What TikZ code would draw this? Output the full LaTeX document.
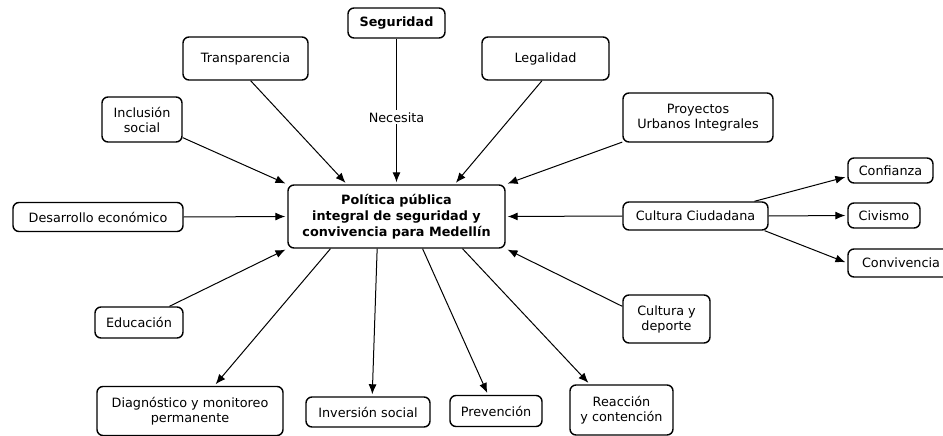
\documentclass[tikz,border=0pt]{standalone}
\usepackage{fontspec}
\setmainfont{DejaVu Sans}
\usetikzlibrary{arrows.meta}
\begin{document}
\begin{tikzpicture}[x=1pt,y=-1pt,
  box/.style={draw, line width=1.4pt, rounded corners=6pt, align=center, inner sep=2pt,
    font=\fontsize{12.8}{15}\selectfont},
  boldbox/.style={box, font=\bfseries\fontsize{12.8}{16}\selectfont},
  link/.style={line width=1pt, -{Latex[length=10pt,width=8pt]}, shorten >=2pt},
  lbl/.style={fill=white, inner sep=2pt, font=\fontsize{12.8}{15}\selectfont}
  ]
\useasboundingbox[fill=white] (0,0) rectangle (943,436);

\node[boldbox, minimum width=97pt, minimum height=30pt] (seg) at (396.5,23) {Seguridad};
\node[box, minimum width=125pt, minimum height=43pt] (trans) at (245.5,58.5) {Transparencia};
\node[box, minimum width=127pt, minimum height=43pt] (leg) at (545.5,58.5) {Legalidad};
\node[box, minimum width=80pt, minimum height=45pt] (incl) at (142,119.5) {Inclusión\\social};
\node[box, minimum width=150pt, minimum height=49pt] (pui) at (698,117.5) {Proyectos\\Urbanos Integrales};
\node[boldbox, minimum width=217pt, minimum height=63pt] (cen) at (396.5,216.5) {Política pública\\integral de seguridad y\\convivencia para Medellín};
\node[box, minimum width=170pt, minimum height=29pt] (des) at (98,217) {Desarrollo económico};
\node[box, minimum width=145pt, minimum height=28pt] (cc) at (695.5,216) {Cultura Ciudadana};
\node[box, minimum width=85pt, minimum height=25pt] (conf) at (890.5,170.5) {Confianza};
\node[box, minimum width=72pt, minimum height=25pt] (civ) at (884,215.5) {Civismo};
\node[box, minimum width=106pt, minimum height=28pt] (conv) at (901,263) {Convivencia};
\node[box, minimum width=87pt, minimum height=48pt] (cyd) at (666.5,319) {Cultura y\\deporte};
\node[box, minimum width=88pt, minimum height=31pt] (edu) at (139,322.5) {Educación};
\node[box, minimum width=186pt, minimum height=49pt] (diag) at (190,411) {Diagnóstico y monitoreo\\permanente};
\node[box, minimum width=124pt, minimum height=30pt] (inv) at (368,412) {Inversión social};
\node[box, minimum width=92pt, minimum height=31pt] (prev) at (496,411) {Prevención};
\node[box, minimum width=103pt, minimum height=50pt] (reac) at (621.5,410) {Reacción\\y contención};

\draw[link] (seg) -- node[lbl, pos=0.54] {Necesita} (cen);
\draw[link] (trans.-77) -- (cen.147.5);
\draw[link] (leg.-99.2) -- (cen.29.6);
\draw[link] (incl.-24.8) -- (cen.north west);
\draw[link] (pui.-162.9) -- (cen.north east);
\draw[link] (des.east) -- (cen.west);
\draw[link] (cc.west) -- (cen.east);
\draw[link] (edu.28.1) -- (cen.south west);
\draw[link] (cyd.164.6) -- (cen.south east);
\draw[link] (cen.-154) -- (diag.46.2);
\draw[link] (cen.-121.8) -- (inv.75);
\draw[link] (cen.-51) -- (prev.116.6);
\draw[link] (cen.-26.4) -- (reac.141.6);
\draw[link] (cc.14.4) -- (conf.-172.6);
\draw[link] (cc.east) -- (civ.west);
\draw[link] (cc.-12.2) -- (conv.west);
\end{tikzpicture}
\end{document}
